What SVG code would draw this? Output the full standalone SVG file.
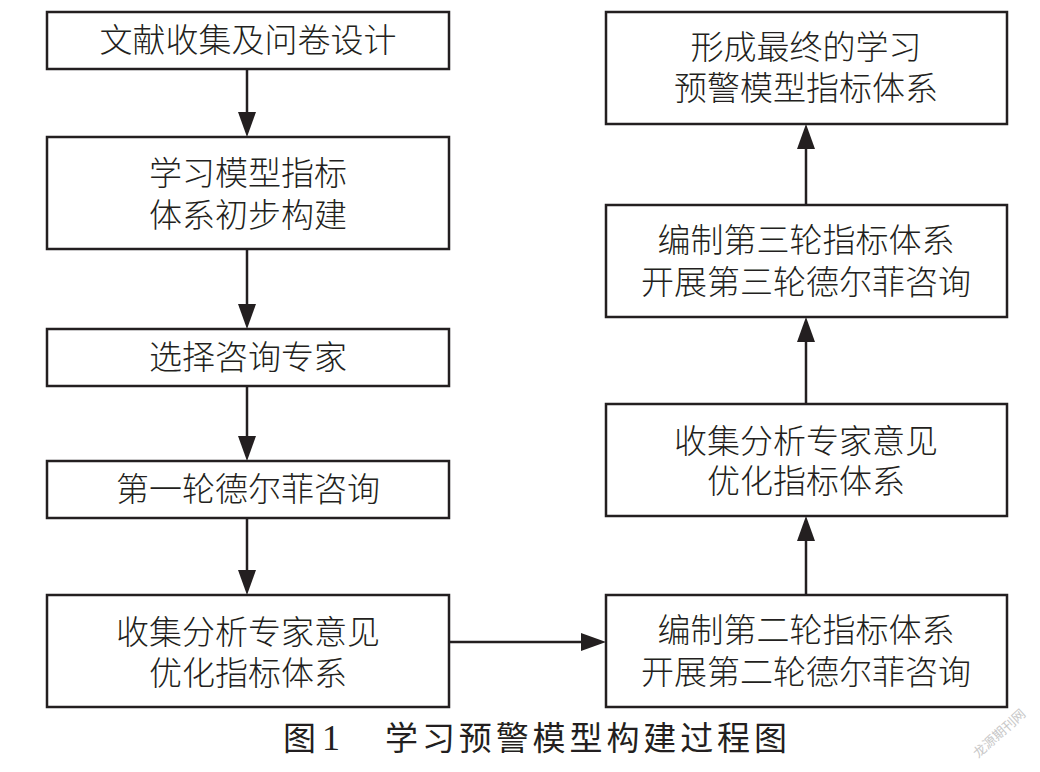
<svg xmlns="http://www.w3.org/2000/svg" width="1040" height="772" viewBox="0 0 1040 772">
<style>
  .box { fill: #ffffff; stroke: #231f20; stroke-width: 2.5; }
  .lbl { font-family: "Liberation Sans", "Noto Sans CJK SC", "Noto Sans CJK JP", sans-serif; font-size: 33px; fill: #231f20; text-anchor: middle; font-weight: 300; }
  .conn { stroke: #231f20; stroke-width: 2.5; fill: none; marker-end: url(#arrow); }
  .cap { font-family: "Liberation Sans", "Noto Sans CJK SC", sans-serif; font-size: 33px; fill: #231f20; }
</style>
<defs>
  <marker id="arrow" markerUnits="userSpaceOnUse" viewBox="0 0 25 18" refX="20" refY="9" markerWidth="25" markerHeight="18" orient="auto">
    <path d="M0,0 L25,9 L0,18 z" fill="#231f20"/>
  </marker>
</defs>
<rect width="1040" height="772" fill="#ffffff"/>

<g id="connectors">
  <line class="conn" x1="247" y1="69" x2="247" y2="132"/>
  <line class="conn" x1="247" y1="249" x2="247" y2="324"/>
  <line class="conn" x1="247" y1="386" x2="247" y2="456"/>
  <line class="conn" x1="247" y1="518" x2="247" y2="590"/>
  <line class="conn" x1="449" y1="642" x2="601" y2="642"/>
  <line class="conn" x1="806" y1="595" x2="806" y2="521"/>
  <line class="conn" x1="806" y1="404" x2="806" y2="322"/>
  <line class="conn" x1="806" y1="205" x2="806" y2="129"/>
</g>

<g id="n1">
  <rect class="box" x="47" y="12" width="402" height="57"/>
  <text class="lbl" x="248" y="52">文献收集及问卷设计</text>
</g>
<g id="n2">
  <rect class="box" x="47" y="137" width="402" height="112"/>
  <text class="lbl" x="248" y="185"><tspan x="248">学习模型指标</tspan><tspan x="248" dy="42">体系初步构建</tspan></text>
</g>
<g id="n3">
  <rect class="box" x="47" y="329" width="402" height="57"/>
  <text class="lbl" x="248" y="369">选择咨询专家</text>
</g>
<g id="n4">
  <rect class="box" x="47" y="461" width="402" height="57"/>
  <text class="lbl" x="248" y="501">第一轮德尔菲咨询</text>
</g>
<g id="n5">
  <rect class="box" x="47" y="595" width="402" height="112"/>
  <text class="lbl" x="248" y="644"><tspan x="248">收集分析专家意见</tspan><tspan x="248" dy="41">优化指标体系</tspan></text>
</g>
<g id="r4">
  <rect class="box" x="606" y="595" width="401" height="112"/>
  <text class="lbl" x="806" y="642"><tspan x="806">编制第二轮指标体系</tspan><tspan x="806" dy="42">开展第二轮德尔菲咨询</tspan></text>
</g>
<g id="r3">
  <rect class="box" x="606" y="404" width="401" height="112"/>
  <text class="lbl" x="806" y="453"><tspan x="806">收集分析专家意见</tspan><tspan x="806" dy="40">优化指标体系</tspan></text>
</g>
<g id="r2">
  <rect class="box" x="606" y="205" width="401" height="112"/>
  <text class="lbl" x="806" y="252"><tspan x="806">编制第三轮指标体系</tspan><tspan x="806" dy="42">开展第三轮德尔菲咨询</tspan></text>
</g>
<g id="r1">
  <rect class="box" x="606" y="12" width="401" height="112"/>
  <text class="lbl" x="806" y="59"><tspan x="806">形成最终的学习</tspan><tspan x="806" dy="41">预警模型指标体系</tspan></text>
</g>

<g id="caption">
  <text class="cap" x="283" y="750">图</text>
  <text x="322" y="750" font-family="Liberation Serif, serif" font-size="36" fill="#231f20">1</text>
  <text class="cap" x="385" y="750" textLength="402" lengthAdjust="spacing">学习预警模型构建过程图</text>
</g>
<text x="999" y="738" transform="rotate(-42 999 733)" text-anchor="middle" font-family="Noto Sans CJK SC, sans-serif" font-size="13" fill="#c8c8c8">龙源期刊网</text>
</svg>
